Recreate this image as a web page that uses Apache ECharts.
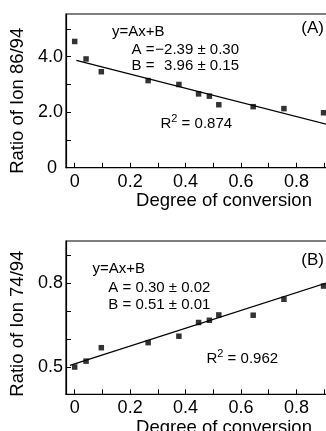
<!DOCTYPE html>
<html>
<head>
<meta charset="utf-8">
<script src="https://cdn.jsdelivr.net/npm/echarts@6/dist/echarts.min.js"></script>
<style>
  html, body { margin: 0; padding: 0; background: #fff; }
  #chart { width: 326px; height: 431px; }
</style>
</head>
<body>
<div id="chart"></div>
<script>
// conversion degree (shared by both panels)
const conversion = [0, 0.041, 0.096, 0.265, 0.376, 0.447, 0.486, 0.52, 0.644, 0.755, 0.898];

// panel A: ratio of ion 86/94
const ratioA = [4.55, 3.92, 3.46, 3.14, 3.0, 2.66, 2.58, 2.27, 2.2, 2.13, 1.98];
const fitA = [[0.006, 3.87], [0.914, 1.55]];

// panel B: ratio of ion 74/94
const ratioB = [0.501, 0.522, 0.57, 0.588, 0.611, 0.66, 0.668, 0.687, 0.686, 0.743, 0.79];
const fitB = [[-0.017, 0.507], [0.914, 0.803]];

const xTicks = [0, 0.1, 0.2, 0.3, 0.4, 0.5, 0.6, 0.7, 0.8, 0.9];
const xLabels = [0, 0.2, 0.4, 0.6, 0.8];
const yTicksA = [1, 2, 3, 4, 5];
const yLabelsA = [0, 2, 4];
const yTicksB = [0.5, 0.6, 0.7, 0.8, 0.9];
const yLabelsB = [0.5, 0.8];

const FONT = 'Liberation Sans, Arial, sans-serif';

const pts = (xs, ys) => xs.map((x, i) => [x, ys[i]]);

function xAxis(gridIndex) {
  return {
    type: 'value', gridIndex, min: -0.0314, max: 0.914,
    axisLine: { show: true, onZero: false, lineStyle: { color: '#000', width: 1.2 } },
    splitLine: { show: false },
    axisTick: { inside: true, length: 5, lineStyle: { color: '#000' }, customValues: xTicks },
    axisLabel: {
      color: '#000', fontSize: 18, fontFamily: FONT, margin: 5,
      customValues: xLabels,
      formatter: v => (v === 0 ? '0' : v.toFixed(1))
    },
    name: 'Degree of conversion', nameLocation: 'middle', nameGap: 20,
    nameTextStyle: { color: '#000', fontSize: 18.5, fontFamily: FONT, padding: [0, 0, 0, 54] }
  };
}

function yAxis(gridIndex, min, max, ticks, labels, name, shift) {
  return {
    type: 'value', gridIndex, min, max,
    axisLine: { show: true, onZero: false, lineStyle: { color: '#000', width: 1.2 } },
    splitLine: { show: false },
    axisTick: { inside: true, length: 5, lineStyle: { color: '#000' }, customValues: ticks },
    axisLabel: {
      color: '#000', fontSize: 18, fontFamily: FONT, margin: 3,
      customValues: labels,
      formatter: v => (v === 0 ? '{z|0}' : v.toFixed(1)),
      rich: { z: { fontSize: 18, fontFamily: FONT, color: '#000', padding: [0, 6, 0, 0] } }
    },
    name, nameLocation: 'middle', nameGap: 33,
    nameTextStyle: { color: '#000', fontSize: 18.5, fontFamily: FONT, padding: [0, shift, 0, 0] }
  };
}

function txt(x, y, text, align) {
  return {
    type: 'text', x, y,
    style: {
      text, fill: '#000', font: '15px ' + FONT,
      align: align || 'left', verticalAlign: 'middle'
    }
  };
}

function r2(x, y, value) {
  return {
    type: 'text', x, y,
    style: {
      text: '{a|R}{b|2}{a| = ' + value + '}',
      fill: '#000', verticalAlign: 'middle',
      rich: {
        a: { fontSize: 15, fontFamily: FONT, fill: '#000', verticalAlign: 'bottom', lineHeight: 18 },
        b: { fontSize: 11, fontFamily: FONT, fill: '#000', verticalAlign: 'top', lineHeight: 18 }
      }
    }
  };
}

const chart = echarts.init(document.getElementById('chart'), null, { renderer: 'canvas' });

const gridBase = {
  left: 66, width: 262, show: true, borderColor: '#000', borderWidth: 1.2,
  backgroundColor: 'transparent', containLabel: false, outerBoundsMode: 'none'
};

chart.setOption({
  backgroundColor: '#fff',
  animation: false,
  grid: [
    Object.assign({}, gridBase, { top: 14, height: 153.7 }),
    Object.assign({}, gridBase, { top: 241, height: 153.3 })
  ],
  xAxis: [xAxis(0), xAxis(1)],
  yAxis: [
    yAxis(0, 0, 5.54, yTicksA, yLabelsA, 'Ratio of Ion 86/94', 20),
    yAxis(1, 0.4036, 0.951, yTicksB, yLabelsB, 'Ratio of Ion 74/94', 12)
  ],
  series: [
    {
      type: 'scatter', xAxisIndex: 0, yAxisIndex: 0, data: pts(conversion, ratioA),
      symbol: 'rect', symbolSize: 5.5, itemStyle: { color: '#000' }
    },
    {
      type: 'line', xAxisIndex: 0, yAxisIndex: 0, data: fitA,
      showSymbol: false, lineStyle: { color: '#000', width: 1.3 }
    },
    {
      type: 'scatter', xAxisIndex: 1, yAxisIndex: 1, data: pts(conversion, ratioB),
      symbol: 'rect', symbolSize: 5.5, itemStyle: { color: '#000' }
    },
    {
      type: 'line', xAxisIndex: 1, yAxisIndex: 1, data: fitB,
      showSymbol: false, lineStyle: { color: '#000', width: 1.3 }
    }
  ],
  graphic: [
    // panel A annotations
    txt(112, 32, 'y=Ax+B'),
    txt(131.5, 49.5, 'A ='),
    txt(239, 49.5, '\u22122.39 \u00b1 0.30', 'right'),
    txt(131.5, 65.5, 'B ='),
    txt(239, 65.5, '3.96 \u00b1 0.15', 'right'),
    { type: 'text', x: 324, y: 28, style: { text: '(A)', fill: '#000', font: '17px ' + FONT, align: 'right', verticalAlign: 'middle' } },
    r2(160.5, 122, '0.874'),
    // panel B annotations
    txt(92.5, 268.5, 'y=Ax+B'),
    txt(108.3, 288, 'A = 0.30 \u00b1 0.02'),
    txt(108.3, 304.5, 'B = 0.51 \u00b1 0.01'),
    { type: 'text', x: 324, y: 260, style: { text: '(B)', fill: '#000', font: '17px ' + FONT, align: 'right', verticalAlign: 'middle' } },
    r2(206.5, 357, '0.962')
  ]
});
</script>
</body>
</html>
